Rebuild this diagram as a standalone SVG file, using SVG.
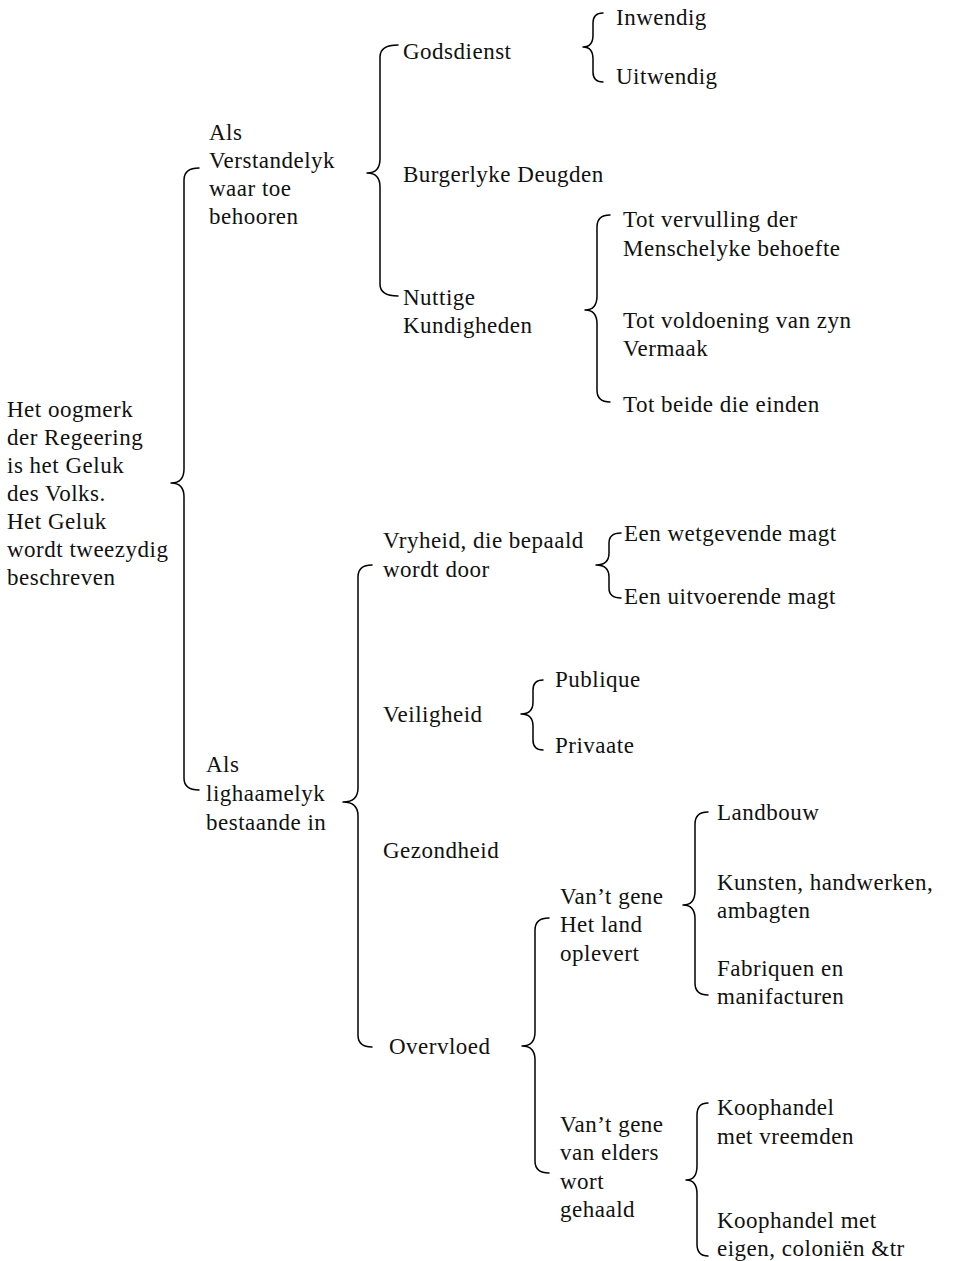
<svg xmlns="http://www.w3.org/2000/svg" width="953" height="1261" viewBox="0 0 953 1261">
<style>
text{font-family:"Liberation Serif","Times New Roman",serif;font-size:23px;letter-spacing:0.5px;fill:#111}
.br{fill:none;stroke:#000;stroke-width:1.5;stroke-linecap:round;stroke-linejoin:round}
</style>
<rect width="953" height="1261" fill="#fff"/>
<g id="connectors">
<path class="br" d="M199,168 Q184,168 184,180 L184,469 Q184,483 171,483 Q184,483 184,497 L184,778 Q184,790 199,790"/>
<path class="br" d="M398,45 Q380,45 380,57 L380,159 Q380,173 367,173 Q380,173 380,187 L380,284 Q380,296 398,296"/>
<path class="br" d="M603,13 Q593,13 593,23 L593,35 Q593,47 583,47 Q593,47 593,59 L593,72 Q593,82 603,82"/>
<path class="br" d="M610,215 Q597,215 597,227 L597,296 Q597,310 585,310 Q597,310 597,324 L597,390 Q597,402 610,402"/>
<path class="br" d="M372,565 Q358,565 358,577 L358,788 Q358,802 343,802 Q358,802 358,816 L358,1035 Q358,1047 372,1047"/>
<path class="br" d="M621,533 Q609,533 609,543 L609,553 Q609,565 596,565 Q609,565 609,577 L609,588 Q609,598 621,598"/>
<path class="br" d="M543,680 Q533,680 533,690 L533,702 Q533,714 521,714 Q533,714 533,726 L533,740 Q533,750 543,750"/>
<path class="br" d="M549,918 Q535,918 535,930 L535,1032 Q535,1046 522,1046 Q535,1046 535,1060 L535,1161 Q535,1173 549,1173"/>
<path class="br" d="M708,812 Q695,812 695,824 L695,891 Q695,905 683,905 Q695,905 695,919 L695,983 Q695,995 708,995"/>
<path class="br" d="M708,1103 Q697,1103 697,1115 L697,1166 Q697,1180 686,1180 Q697,1180 697,1194 L697,1244 Q697,1256 708,1256"/>
</g>
<g id="root"><text x="7" y="417">Het oogmerk</text><text x="7" y="445">der Regeering</text><text x="7" y="473">is het Geluk</text><text x="7" y="501">des Volks.</text><text x="7" y="529">Het Geluk</text><text x="7" y="557">wordt tweezydig</text><text x="7" y="585">beschreven</text></g>
<g id="verstandelyk"><text x="209" y="140">Als</text><text x="209" y="168">Verstandelyk</text><text x="209" y="196">waar toe</text><text x="209" y="224">behooren</text></g>
<g id="godsdienst"><text x="403" y="59">Godsdienst</text></g>
<g id="inwendig"><text x="616" y="25">Inwendig</text></g>
<g id="uitwendig"><text x="616" y="84">Uitwendig</text></g>
<g id="burgerlyke"><text x="403" y="182">Burgerlyke Deugden</text></g>
<g id="nuttige"><text x="403" y="305">Nuttige</text><text x="403" y="333">Kundigheden</text></g>
<g id="vervulling"><text x="623" y="227">Tot vervulling der</text><text x="623" y="256">Menschelyke behoefte</text></g>
<g id="voldoening"><text x="623" y="328">Tot voldoening van zyn</text><text x="623" y="356">Vermaak</text></g>
<g id="beide"><text x="623" y="412">Tot beide die einden</text></g>
<g id="lighaamelyk"><text x="206" y="772">Als</text><text x="206" y="801">lighaamelyk</text><text x="206" y="830">bestaande in</text></g>
<g id="vryheid"><text x="383" y="548">Vryheid, die bepaald</text><text x="383" y="577">wordt door</text></g>
<g id="wetgevende"><text x="624" y="541">Een wetgevende magt</text></g>
<g id="uitvoerende"><text x="624" y="604">Een uitvoerende magt</text></g>
<g id="veiligheid"><text x="383" y="722">Veiligheid</text></g>
<g id="publique"><text x="555" y="687">Publique</text></g>
<g id="privaate"><text x="555" y="753">Privaate</text></g>
<g id="gezondheid"><text x="383" y="858">Gezondheid</text></g>
<g id="overvloed"><text x="389" y="1054">Overvloed</text></g>
<g id="land"><text x="560" y="904">Van’t gene</text><text x="560" y="932">Het land</text><text x="560" y="961">oplevert</text></g>
<g id="landbouw"><text x="717" y="820">Landbouw</text></g>
<g id="kunsten"><text x="717" y="890">Kunsten, handwerken,</text><text x="717" y="918">ambagten</text></g>
<g id="fabriquen"><text x="717" y="976">Fabriquen en</text><text x="717" y="1004">manifacturen</text></g>
<g id="elders"><text x="560" y="1132">Van’t gene</text><text x="560" y="1160">van elders</text><text x="560" y="1189">wort</text><text x="560" y="1217">gehaald</text></g>
<g id="vreemden"><text x="717" y="1115">Koophandel</text><text x="717" y="1144">met vreemden</text></g>
<g id="eigen"><text x="717" y="1228">Koophandel met</text><text x="717" y="1256">eigen, coloniën &amp;tr</text></g>
</svg>
